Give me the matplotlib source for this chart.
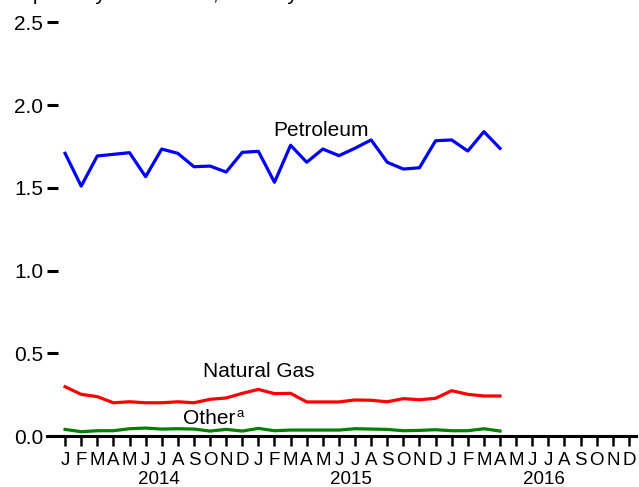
import matplotlib.pyplot as plt
import matplotlib.transforms as mtransforms
import numpy as np

plt.rcParams['font.family'] = ['Liberation Sans', 'DejaVu Sans']

# monthly values, Jan 2014 .. Apr 2016
petroleum = [1.709, 1.511, 1.693, 1.703, 1.713, 1.568, 1.735, 1.709, 1.628, 1.632,
             1.596, 1.715, 1.721, 1.534, 1.758, 1.655, 1.735, 1.695, 1.740, 1.790,
             1.655, 1.614, 1.622, 1.785, 1.790, 1.723, 1.840, 1.739]
natural_gas = [0.298, 0.252, 0.238, 0.201, 0.207, 0.201, 0.201, 0.207, 0.201, 0.222,
               0.230, 0.258, 0.282, 0.256, 0.258, 0.206, 0.206, 0.206, 0.218, 0.216,
               0.207, 0.226, 0.219, 0.228, 0.274, 0.252, 0.242, 0.242]
other = [0.040, 0.026, 0.032, 0.032, 0.044, 0.048, 0.042, 0.044, 0.042, 0.030,
         0.040, 0.030, 0.046, 0.032, 0.036, 0.036, 0.036, 0.036, 0.044, 0.042,
         0.040, 0.032, 0.034, 0.038, 0.032, 0.032, 0.044, 0.030]

month_labels = list("JFMAMJJASOND") * 3
years = ["2014", "2015", "2016"]
yticks = [0.0, 0.5, 1.0, 1.5, 2.0, 2.5]

fig = plt.figure(figsize=(6.39, 4.87), dpi=100)
ax = fig.add_axes([0.0736, 0.1047, 0.9224, 0.8491])

x = np.arange(len(petroleum))
ax.plot(x, petroleum, color='blue', lw=2.3)
ax.plot(x, natural_gas, color='red', lw=2.3)
ax.plot(x, other, color='green', lw=2.3)

ax.text(15.87, 1.814, "Petroleum", ha='center', va='baseline', fontsize=15)
ax.text(12.04, 0.359, "Natural Gas", ha='center', va='baseline', fontsize=15)
ax.text(7.31, 0.0726, "Other", ha='left', va='baseline', fontsize=15)
ax.text(10.64, 0.113, "a", ha='left', va='baseline', fontsize=9.5)

ax.set_xlim(-1.12, 35.47)
ax.set_ylim(0, 2.5)
for s in ['top', 'right', 'left']:
    ax.spines[s].set_visible(False)
ax.spines['bottom'].set_linewidth(2.2)

ax.set_yticks(yticks)
ax.set_yticklabels([f"{v:.1f}" for v in yticks], fontsize=15)
ax.tick_params(axis='y', direction='in', length=7.6, width=2.2, pad=2.9)

ax.set_xticks(np.arange(36))
ax.set_xticklabels(month_labels, fontsize=13.5)
ax.tick_params(axis='x', direction='out', length=7.5, width=1.8, pad=4.3)

trans = mtransforms.blended_transform_factory(ax.transData, fig.transFigure)
for i, yr in enumerate(years):
    ax.text(5.8 + 11.95 * i, 3 / 487, yr, transform=trans, ha='center', va='baseline',
            fontsize=13.5)

# top title line, cut off by the top edge
fig.text(-0.163, 1.0, "Million Barrels per Day Consumed, Monthly", ha='left',
         va='baseline', fontsize=15)

fig.savefig("out.png", dpi=100)
